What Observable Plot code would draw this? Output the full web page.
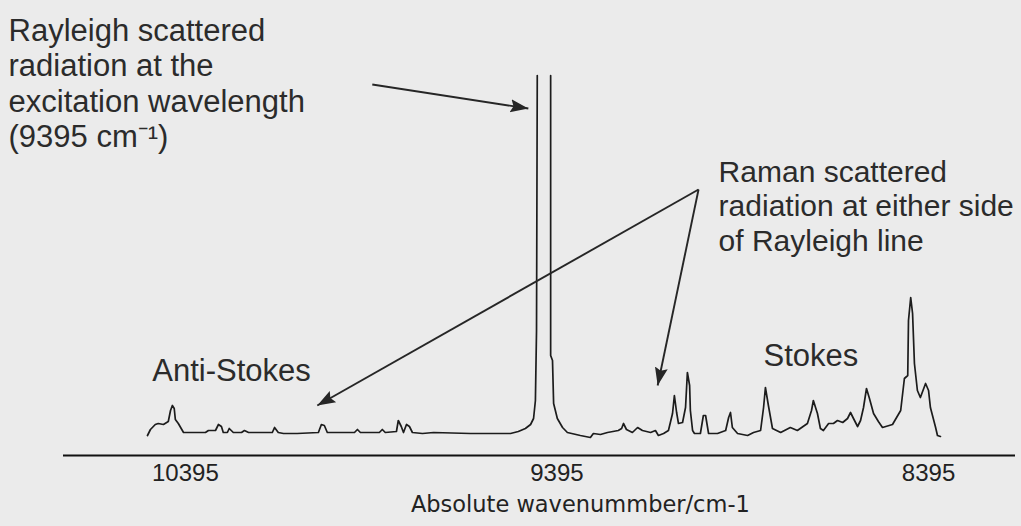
<!DOCTYPE html>
<html>
<head>
<meta charset="utf-8">
<script src="https://cdn.jsdelivr.net/npm/d3@7"></script>
<script src="https://cdn.jsdelivr.net/npm/@observablehq/plot@0.6"></script>
<style>
  html, body { margin: 0; padding: 0; background: #ebebeb; }
  #chart { width: 1021px; height: 526px; overflow: hidden; }
</style>
</head>
<body>
<div id="chart"></div>
<script>
// Spectrum: absolute wavenumber (cm-1) vs. intensity (arbitrary units); null = off-scale Rayleigh line
const wavenumber = [
  10497, 10489, 10476, 10468, 10454, 10441, 10435, 10430, 10425, 10422, 10414, 10400,
  10341, 10333, 10314, 10306, 10298, 10293, 10282, 10277, 10266, 10244, 10236, 10225,
  10161, 10155, 10145, 10131, 10094, 10037, 10029, 10021, 10013, 9940, 9932, 9924,
  9873, 9865, 9857, 9827, 9822, 9814, 9808, 9800, 9792, 9784, 9757, 9727,
  9628, 9520, 9499, 9480, 9466, 9458, 9453, 9450, 9448,
  9430,
  9412, 9412, 9407, 9404, 9394, 9380, 9367, 9332, 9305, 9297, 9278, 9259,
  9230, 9221, 9216, 9208, 9192, 9178, 9165, 9143, 9130, 9122, 9108, 9095,
  9084, 9079, 9073, 9068, 9057, 9049, 9044, 9038, 9036, 9030, 9025, 9009,
  9001, 8995, 8987, 8963, 8941, 8933, 8928, 8923, 8909, 8882, 8866, 8847,
  8839, 8834, 8826, 8815, 8793, 8767, 8748, 8721, 8710, 8705, 8694, 8686,
  8678, 8664, 8651, 8640, 8626, 8613, 8605, 8597, 8586, 8578, 8570, 8562,
  8554, 8543, 8530, 8519, 8492, 8470, 8460, 8451, 8449, 8443, 8438, 8433,
  8425, 8417, 8403, 8395, 8390, 8376, 8371, 8363
];
const intensity = [
  20, 26, 31, 32, 31, 34, 45, 50, 47, 36, 32, 23,
  23, 25, 25, 31, 29, 23, 23, 27, 23, 23, 25, 23,
  23, 28, 23, 22, 22, 23, 31, 30, 23, 23, 26, 23,
  23, 26, 23, 24, 35, 29, 23, 31, 29, 23, 22, 23,
  22, 22, 24, 27, 31, 37, 55, 125, 380,
  null,
  380, 100, 95, 52, 37, 28, 23, 20, 18, 22, 21, 23,
  25, 27, 32, 26, 23, 28, 25, 23, 25, 20, 22, 25,
  42, 60, 43, 32, 33, 48, 83, 70, 45, 25, 22, 22,
  40, 40, 22, 22, 25, 38, 43, 28, 22, 20, 23, 25,
  48, 68, 50, 27, 23, 28, 25, 32, 45, 55, 42, 27,
  25, 32, 32, 35, 33, 37, 43, 37, 29, 35, 48, 67,
  57, 42, 34, 28, 31, 45, 77, 80, 135, 158, 142, 92,
  65, 58, 72, 65, 48, 28, 20, 19
];

const tickValues = [10395, 9395, 8395];
const axisLabel = ["Absolute wavenummber/cm-1"];
const axisLabelX = [9332];

// Annotation labels (anchored at the top-left of their first line)
const labelText = [
  "Rayleigh scattered\nradiation at the\nexcitation wavelength\n(9395 cm\u207B\u00B9)",
  "Anti-Stokes",
  "Stokes"
];
const labelX = [10871, 10484, 8839];
const labelY = [440, 100, 115];

const ramanText = ["Raman scattered\nradiation at either side\nof Rayleigh line"];
const ramanX = [8960];
const ramanY = [298];

// Annotation arrows (tail -> head)
const arrowX1 = [9892, 9014, 9014];
const arrowY1 = [371, 266, 266];
const arrowX2 = [9472, 10040, 9124];
const arrowY2 = [347, 50, 70];

const spectrum = wavenumber.map((w, i) => ({w, v: intensity[i]}));
const labels = labelText.map((t, i) => ({t, x: labelX[i], y: labelY[i]}));
const raman = ramanText.map((t, i) => ({t, x: ramanX[i], y: ramanY[i]}));
const arrows = arrowX1.map((x1, i) => ({x1, y1: arrowY1[i], x2: arrowX2[i], y2: arrowY2[i]}));
const xLabel = axisLabel.map((t, i) => ({t, x: axisLabelX[i]}));

const filledHead = (color) => {
  const m = d3.create("svg:marker")
    .attr("viewBox", "-18 -9 18 18")
    .attr("markerWidth", 18)
    .attr("markerHeight", 18)
    .attr("markerUnits", "userSpaceOnUse")
    .attr("orient", "auto")
    .attr("fill", color)
    .attr("stroke", "none");
  m.append("path").attr("d", "M-18,-6.5L0,0L-18,6.5L-15,0Z");
  return m.node();
};

const ink = "#262626";
const textStyle = {textAnchor: "start", lineAnchor: "top", lineHeight: 1.145, fill: "#2b2b2b"};

const chart = Plot.plot({
  width: 1021,
  height: 526,
  marginTop: 75,
  marginBottom: 71,
  marginLeft: 63,
  marginRight: 6,
  style: {background: "#ebebeb", fontFamily: "'Liberation Sans', Arial, sans-serif", color: ink},
  x: {domain: [10723, 8161]},
  y: {domain: [0, 380], axis: null},
  marks: [
    Plot.ruleY([0], {stroke: "#111", strokeWidth: 2.2}),
    Plot.axisX({
      ticks: tickValues,
      tickFormat: d => String(d),
      tickSize: 0,
      tickPadding: 8,
      fontSize: 24,
      fill: "#222",
      label: null
    }),
    Plot.text(xLabel, {
      x: "x",
      text: "t",
      frameAnchor: "bottom",
      lineAnchor: "top",
      dy: 41,
      fontSize: 22.5,
      fontFamily: "'DejaVu Sans', sans-serif",
      fill: "#222"
    }),
    Plot.line(spectrum, {x: "w", y: "v", stroke: "#1c1c1c", strokeWidth: 1.7}),
    Plot.link(arrows, {x1: "x1", y1: "y1", x2: "x2", y2: "y2", stroke: ink, strokeWidth: 1.9, markerEnd: filledHead}),
    Plot.text(labels, {x: "x", y: "y", text: "t", fontSize: 31, ...textStyle}),
    Plot.text(raman, {x: "x", y: "y", text: "t", fontSize: 30, ...textStyle})
  ]
});
document.getElementById("chart").append(chart);
</script>
</body>
</html>
